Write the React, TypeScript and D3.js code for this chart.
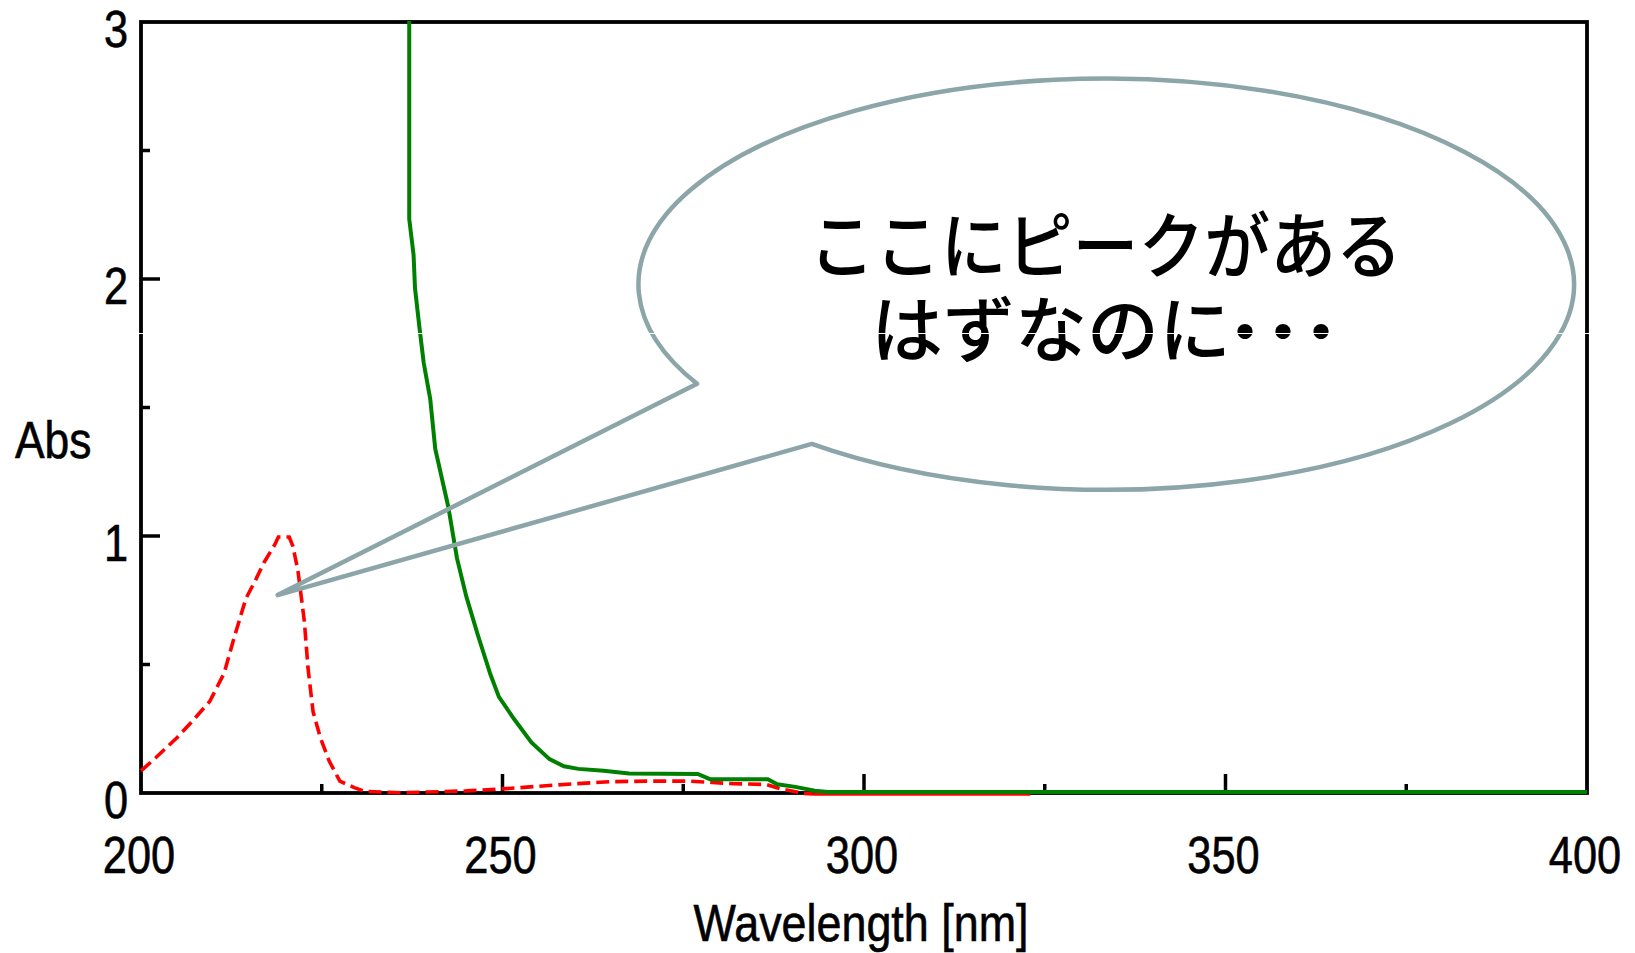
import React from "react";
import * as d3 from "d3";

// axis ticks
const xMajorTicks = [200, 250, 300, 350, 400];
const xMinorTicks = [225, 275, 325, 375];
const yMajorTicks = [0, 1, 2, 3];
const yMinorTicks = [0.5, 1.5, 2.5];

// red dashed trace (expected spectrum)
const redWavelength = [200, 202, 205, 207, 209.5, 211.5, 212.8, 214.5, 215.8, 217, 218.5, 219, 220.5, 221, 221.7, 222.2, 222.6, 223.1, 223.8, 224.8, 226, 227.5, 229.5, 231, 236, 245, 250, 255, 260, 265, 270, 276, 279, 282, 286.5, 288.5, 291.5, 293];
const redAbs = [0.09, 0.14, 0.22, 0.28, 0.36, 0.47, 0.6, 0.76, 0.83, 0.9, 0.97, 1.0, 1.0, 0.965, 0.87, 0.76, 0.67, 0.49, 0.32, 0.22, 0.13, 0.05, 0.025, 0.01, 0.005, 0.012, 0.02, 0.03, 0.04, 0.048, 0.05, 0.05, 0.045, 0.04, 0.037, 0.02, 0.003, 0];
const redFlatEnd = 323; // red keeps running at zero under the green trace

// green solid trace (measured spectrum)
const greenWavelength = [237.1, 237.1, 237.7, 237.9, 238.5, 239.1, 240.0, 240.7, 242.5, 243.7, 245.0, 246.6, 248.3, 249.5, 251.6, 254, 256.5, 258.5, 260.5, 264, 267.5, 277, 278.7, 286.7, 288, 290.5, 293.2, 295, 400];
const greenAbs = [3.0, 2.23, 2.09, 1.96, 1.81, 1.67, 1.53, 1.335, 1.11, 0.91, 0.76, 0.61, 0.46, 0.37, 0.284, 0.193, 0.128, 0.1, 0.09, 0.083, 0.072, 0.07, 0.05, 0.05, 0.03, 0.02, 0.005, 0, 0];

// speech bubble, in data units
const bubbleCenter = [333.5, 1.98];
const bubbleRadius = [64.7, 0.8]; // nm, Abs
const bubbleTip = [218.9, 0.77];
const bubbleTailAngles = [129, 151];
const calloutLine1 = "ここにピークがある";
const calloutLine2 = "はずなのに";
const calloutDots = "･･･";

const W = 1635;
const H = 953;

const x = d3.scaleLinear().domain([200, 400]).range([141, 1587]);
const y = d3.scaleLinear().domain([0, 3]).range([793, 22]);

const line = d3
  .line<[number, number]>()
  .x((d) => x(d[0]))
  .y((d) => y(d[1]));

const redPts: [number, number][] = redWavelength.map((w, i) => [w, redAbs[i]]);
const redFlat: [number, number][] = [
  [redWavelength[redWavelength.length - 1], 0],
  [redFlatEnd, 0],
];
const greenPts: [number, number][] = greenWavelength.map((w, i) => [w, greenAbs[i]]);

const bubblePath = () => {
  const cx = x(bubbleCenter[0]);
  const cy = y(bubbleCenter[1]);
  const rx = x(bubbleCenter[0] + bubbleRadius[0]) - cx;
  const ry = cy - y(bubbleCenter[1] + bubbleRadius[1]);
  const pt = (deg: number) => {
    const a = (deg * Math.PI) / 180;
    return [cx + rx * Math.cos(a), cy + ry * Math.sin(a)];
  };
  const p1 = pt(bubbleTailAngles[0]);
  const p2 = pt(bubbleTailAngles[1]);
  // long way round the ellipse, then out to the tip and back
  return `M${p1[0]},${p1[1]}A${rx},${ry} 0 1 0 ${p2[0]},${p2[1]}L${x(bubbleTip[0])},${y(bubbleTip[1])}Z`;
};

const axisFont = "'Liberation Sans', Arial, sans-serif";
const jpFont = "'Noto Sans CJK JP', sans-serif";

const App = () => {
  const [x0, x1] = x.range();
  const [y0, y1] = y.range();

  const label = { fontFamily: axisFont, fontSize: 51, fill: "#000", stroke: "#000", strokeWidth: 0.6 };

  return (
    <svg width={W} height={H} style={{ position: "absolute", left: 0, top: 0, background: "#fff" }}>
      {/* frame */}
      <rect x={x0} y={y1} width={x1 - x0} height={y0 - y1} fill="none" stroke="#000" strokeWidth={3.8} />

      {/* x ticks */}
      {xMajorTicks.slice(1, -1).map((t) => (
        <line key={"xM" + t} x1={x(t)} x2={x(t)} y1={y0} y2={y0 - 19} stroke="#000" strokeWidth={3.5} />
      ))}
      {xMinorTicks.map((t) => (
        <line key={"xm" + t} x1={x(t)} x2={x(t)} y1={y0} y2={y0 - 9} stroke="#000" strokeWidth={3.5} />
      ))}
      {xMajorTicks.map((t) => (
        <text key={"xl" + t} transform={`translate(${x(t) - 2},873) scale(0.85,1)`} textAnchor="middle" {...label}>
          {t}
        </text>
      ))}

      {/* y ticks */}
      {yMajorTicks.slice(1, -1).map((t) => (
        <line key={"yM" + t} x1={x0} x2={x0 + 19} y1={y(t)} y2={y(t)} stroke="#000" strokeWidth={3.5} />
      ))}
      {yMinorTicks.map((t) => (
        <line key={"ym" + t} x1={x0} x2={x0 + 9} y1={y(t)} y2={y(t)} stroke="#000" strokeWidth={3.5} />
      ))}
      {yMajorTicks.map((t) => (
        <text key={"yl" + t} transform={`translate(128,${y(t) + 25}) scale(0.85,1)`} textAnchor="end" {...label}>
          {t}
        </text>
      ))}

      <text transform="translate(15,458) scale(0.87,1)" {...label}>
        Abs
      </text>
      <text transform="translate(861,941) scale(0.88,1)" textAnchor="middle" {...label}>
        Wavelength [nm]
      </text>

      {/* traces */}
      <g transform="translate(0,1)">
        <path d={line(redPts) || ""} fill="none" stroke="#ff0000" strokeWidth={3.6} strokeDasharray="13,6" />
        <path d={line(redFlat) || ""} fill="none" stroke="#ff0000" strokeWidth={3.6} />
      </g>
      <path d={line(greenPts) || ""} transform="translate(0,-1)" fill="none" stroke="#008000" strokeWidth={4} />

      {/* callout */}
      <path d={bubblePath()} fill="none" stroke="#8ba5a8" strokeWidth={4.5} strokeLinejoin="round" />
      <text
        transform="translate(1105.5,272) scale(0.915,1)"
        textAnchor="middle"
        fontFamily={jpFont}
        fontWeight={500}
        fontSize={72}
        fill="#000"
      >
        {calloutLine1}
      </text>
      <text transform="translate(871,356)" fontFamily={jpFont} fontWeight={500} fontSize={72} fill="#000">
        <tspan>{calloutLine2}</tspan>
        <tspan dx={-4} dy={2} letterSpacing={2} fontWeight={900}>
          {calloutDots}
        </tspan>
      </text>

      {/* thin white scan line crossing the picture */}
      <line x1={0} x2={W} y1={333.5} y2={333.5} stroke="#fff" strokeWidth={1.2} />
    </svg>
  );
};

export default App;
